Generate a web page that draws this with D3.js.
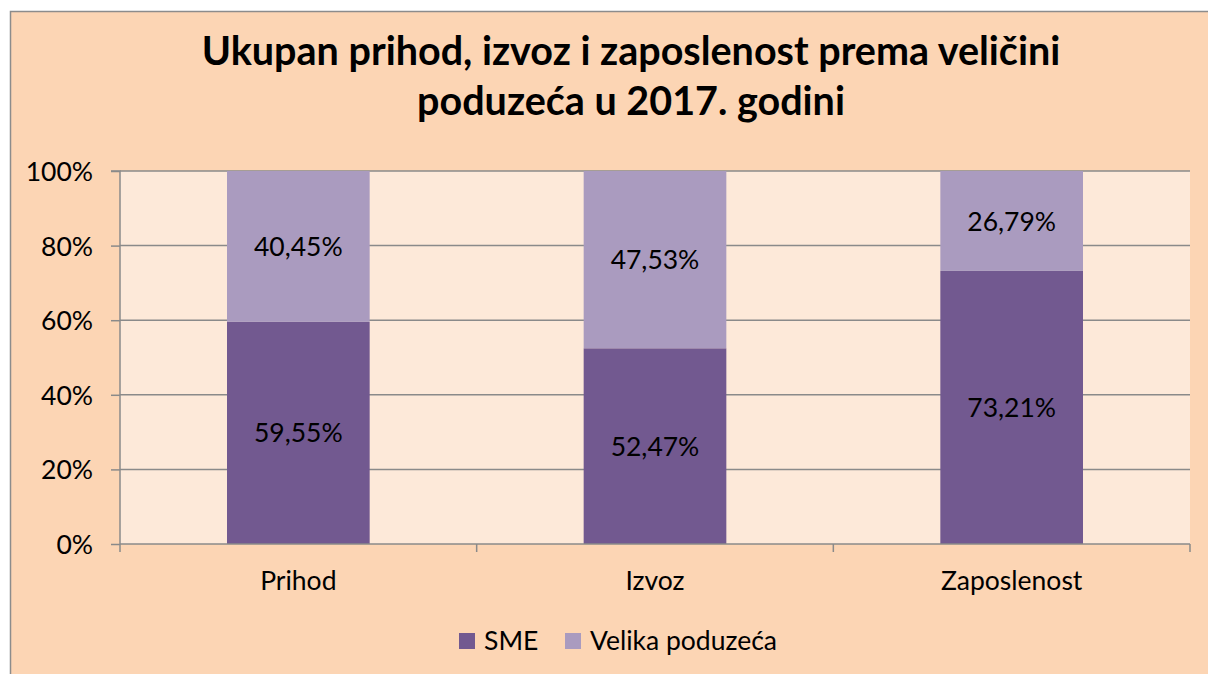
<!DOCTYPE html>
<html><head><meta charset="utf-8">
<script src="https://cdn.jsdelivr.net/npm/d3@7"></script>
<style>body{margin:0;background:#fff}svg{display:block}text{font-family:Lato,"Open Sans",sans-serif}</style>
</head><body><svg id="c" width="1208" height="674"></svg>
<script>
const categories = ["Prihod", "Izvoz", "Zaposlenost"];
const seriesNames = ["SME", "Velika poduzeća"];
const smeValues = [59.55, 52.47, 73.21];
const velikaValues = [40.45, 47.53, 26.79];
const yTicks = [0, 20, 40, 60, 80, 100];
const titleLines = ["Ukupan prihod, izvoz i zaposlenost prema veličini", "poduzeća u 2017. godini"];
const colors = ["#725990", "#AA9BBF"];

const FS = 26.5;
const svg = d3.select("#c");
svg.append("rect").attr("x",10.5).attr("y",11.5).attr("width",1210).attr("height",700)
  .attr("fill","#FCD5B4").attr("stroke","#8c8c8c").attr("stroke-width",1.5);

const L=120, R=1190, T=171, B=544;
svg.append("rect").attr("x",L).attr("y",T).attr("width",R-L).attr("height",B-T).attr("fill","#FDE9D9");

const x = d3.scaleBand().domain(categories).range([L,R]).paddingInner(0.6).paddingOuter(0.3);
const y = d3.scaleLinear().domain([0,100]).range([B,T]);

// gridlines
svg.append("g").selectAll("line").data(yTicks.filter(d=>d>0)).join("line")
  .attr("x1",L).attr("x2",R).attr("y1",d=>y(d)).attr("y2",d=>y(d))
  .attr("stroke","#8a8a8a").attr("stroke-width",1.5);

const stackData = categories.map((c,i)=>({cat:c, sme:smeValues[i], vel:velikaValues[i]}));
const stack = d3.stack().keys(["sme","vel"])(stackData);
stack.forEach((s,si)=>{
  const g = svg.append("g");
  g.selectAll("rect").data(s).join("rect")
    .attr("x",d=>x(d.data.cat)).attr("width",x.bandwidth())
    .attr("y",d=>y(d[1])).attr("height",d=>y(d[0])-y(d[1]))
    .attr("fill",colors[si]);
  g.selectAll("text").data(s).join("text")
    .attr("x",d=>x(d.data.cat)+x.bandwidth()/2)
    .attr("y",d=>(y(d[0])+y(d[1]))/2)
    .attr("dy","0.36em").attr("text-anchor","middle")
    .attr("font-size",FS).attr("fill","#000")
    .text(d=>(d[1]-d[0]).toFixed(2).replace(".",",")+"%");
});

// y axis
const yAxis = d3.axisLeft(y).tickValues(yTicks).tickSize(9).tickPadding(18).tickFormat(d=>d+"%");
const ya = svg.append("g").attr("transform",`translate(${L},0)`).call(yAxis);
ya.select(".domain").attr("stroke","#8a8a8a").attr("stroke-width",1.5).attr("d",`M-9,${T}H0V${B}`);
ya.selectAll(".tick line").attr("stroke","#8a8a8a").attr("stroke-width",1.5);
ya.selectAll(".tick text").attr("font-size",FS).attr("fill","#000").attr("font-family","Lato").attr("dy","0.36em");

// x axis
const xa = svg.append("g").attr("transform",`translate(0,${B})`);
xa.append("line").attr("x1",L).attr("x2",R).attr("stroke","#8a8a8a").attr("stroke-width",1.5);
const bstep = (R-L)/categories.length;
xa.selectAll("line.t").data(d3.range(categories.length+1)).join("line").attr("class","t")
  .attr("x1",i=>L+i*bstep).attr("x2",i=>L+i*bstep).attr("y1",0).attr("y2",8)
  .attr("stroke","#8a8a8a").attr("stroke-width",1.5);
xa.selectAll("text").data(categories).join("text")
  .attr("x",d=>x(d)+x.bandwidth()/2).attr("y",46).attr("text-anchor","middle")
  .attr("font-size",FS).attr("fill","#000").text(d=>d);

// title
svg.append("g").selectAll("text").data(titleLines).join("text")
  .attr("x",631).attr("y",(d,i)=>65+i*50).attr("text-anchor","middle")
  .attr("font-size",39.5).attr("font-weight","bold").attr("fill","#000").text(d=>d);

// legend
const leg = svg.append("g");
const legX = [459, 565];
seriesNames.forEach((n,i)=>{
  leg.append("rect").attr("x",legX[i]).attr("y",633).attr("width",16).attr("height",16).attr("fill",colors[i]);
  leg.append("text").attr("x",legX[i]+25).attr("y",650).attr("font-size",FS).attr("fill","#000").text(n);
});
</script></body></html>
